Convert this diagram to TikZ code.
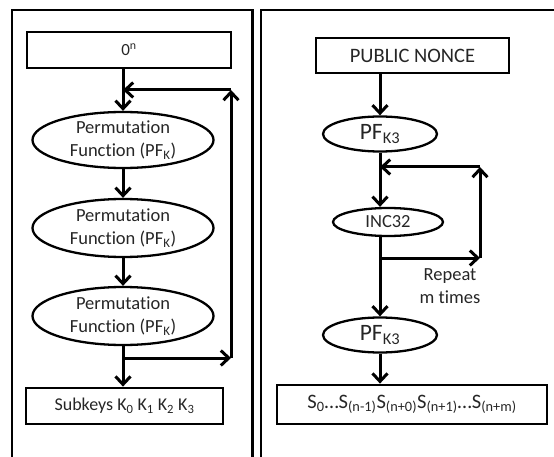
\documentclass[tikz,border=0pt]{standalone}
\usepackage{fontspec}
\setmainfont[Ligatures=NoCommon]{Carlito}
\usetikzlibrary{shapes.geometric, arrows.meta}

\begin{document}
\begin{tikzpicture}[
    x=1pt, y=-1pt,
    node distance=88pt,
    every node/.style={font=\fontsize{18.5}{23}\selectfont, text=black!85},
    >={Straight Barb[length=8pt, width=15pt]},
    line/.style={line width=3pt},
    frame/.style={line width=2.7pt},
    box/.style={rectangle, draw, line width=2.8pt, inner sep=0pt, align=center},
    oval/.style={ellipse, draw, line width=2.3pt, inner xsep=0pt, inner ysep=-3pt, align=center}
]
\useasboundingbox (0,0) rectangle (554,457);

% panels
\draw[frame] (12,460) -- (12,10) -- (252.5,10) -- (252.5,460);
\draw[frame] (261,460) -- (261,10) -- (556,10);

% left: subkey generation
\node (zero) [box, minimum width=204pt, minimum height=36pt, font=\fontsize{17}{20}\selectfont] at (129,50) {0\textsuperscript{n}};
\node (perm1) [oval, minimum width=181pt, minimum height=56pt] at (123,140) {Permutation\\Function (PF\textsubscript{K})};
\node (perm2) [oval, minimum width=181pt, minimum height=58pt, below of=perm1] {Permutation\\Function (PF\textsubscript{K})};
\node (perm3) [oval, minimum width=181pt, minimum height=58pt, below of=perm2] {Permutation\\Function (PF\textsubscript{K})};
\node (subkeys) [box, minimum width=197pt, minimum height=36pt, below of=perm3, xshift=1.5pt, yshift=-2pt, font=\fontsize{18}{20}\selectfont] {Subkeys K\textsubscript{0} K\textsubscript{1} K\textsubscript{2} K\textsubscript{3}};
\coordinate (looptopL) at (231,90);
\coordinate (loopbotL) at (231,358);

\draw[line, ->] (perm1|-zero.south) -- (perm1);
\draw[line, ->] (perm1) -- (perm2);
\draw[line, ->] (perm2) -- (perm3);
\draw[line, ->] (perm3) -- (perm3|-subkeys.north);
\draw[line, ->] (perm3|-loopbotL) -- (loopbotL);
\draw[line, ->] (loopbotL) -- (looptopL);
\draw[line, ->] (looptopL) -- (perm1|-looptopL);

% right: keystream
\node (nonce) [box, minimum width=193pt, minimum height=35pt, font=\fontsize{20.5}{24}\selectfont] at (412.5,55.5) {PUBLIC NONCE};
\node (pfa) [oval, minimum width=114pt, minimum height=35pt, font=\fontsize{23.5}{28}\selectfont] at (380,134) {PF\textsubscript{K3}};
\node (inc) [oval, minimum width=110pt, minimum height=28pt, below of=pfa, xshift=8pt] {INC32};
\node (pfb) [oval, minimum width=114pt, minimum height=35pt, below of=inc, xshift=-8pt, yshift=-25pt, font=\fontsize{23.5}{28}\selectfont] {PF\textsubscript{K3}};
\node (stream) [box, minimum width=270pt, minimum height=39pt, below of=pfb, xshift=32pt, yshift=18.5pt, font=\fontsize{20.5}{24}\selectfont] {S\textsubscript{0}…S\textsubscript{(n-1)}S\textsubscript{(n+0)}S\textsubscript{(n+1)}…S\textsubscript{(n+m)}};
\node (repeat) [align=center] at (450,286) {Repeat\\m times};
\coordinate (looptopR) at (480,167);
\coordinate (loopbotR) at (480,258);

\draw[line, ->] (pfa|-nonce.south) -- (pfa);
\draw[line, ->] (pfa) -- (pfa|-inc.north);
\draw[line, ->] (pfa|-inc.south) -- (pfb);
\draw[line, ->] (pfb) -- (pfb|-stream.north);
\draw[line, ->] (pfa|-loopbotR) -- (loopbotR);
\draw[line, ->] (loopbotR) -- (looptopR);
\draw[line, ->] (looptopR) -- (pfa|-looptopR);
\end{tikzpicture}
\end{document}
